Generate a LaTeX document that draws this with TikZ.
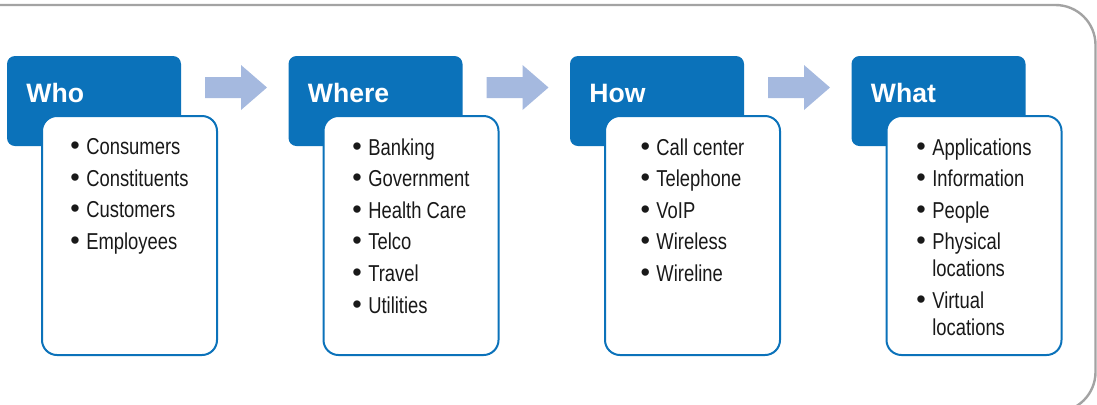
\documentclass[tikz,border=0pt]{standalone}
\usepackage{fontspec}
\setmainfont{Liberation Sans}
\newfontfamily\narrowsf[FakeStretch=0.8]{Liberation Sans}
\newfontfamily\plainsf{Liberation Sans}
\definecolor{hdrblue}{HTML}{0B72BA}
\definecolor{arrblue}{HTML}{A5B9DF}
\definecolor{framegray}{HTML}{A3A3A3}
% list bullet, a bit larger than the narrow text
\newcommand{\dotitem}{{\plainsf\fontsize{13.5}{13.5}\selectfont\textbullet}\hspace{3.2pt}}

\begin{document}
\begin{tikzpicture}[x=0.5pt, y=-0.5pt,
  head/.style={rectangle, fill=hdrblue, rounded corners=4pt,
    minimum width=87pt, minimum height=45pt, inner sep=0pt},
  card/.style={rectangle, draw=hdrblue, line width=1pt, fill=white,
    rounded corners=7.5pt, minimum width=87.5pt, minimum height=119.5pt, inner sep=0pt},
  title/.style={anchor=base west, text=white, inner sep=0pt,
    font=\fontsize{13.3}{16}\selectfont\bfseries},
  items/.style={anchor=north, align=left, inner sep=0pt, text=black!90,
    font=\narrowsf\fontsize{11.5}{13.5}\selectfont},
  flow/.style={fill=arrblue}
]
\useasboundingbox (0,0) rectangle (1097,404);
% outer frame
\draw[framegray, line width=1.2pt, rounded corners=20pt] (-40,5) rectangle (1095.5,412);

% headers
\node[head] (whoH) at (94,101) {};
\node[head] (whereH) at (375.5,101) {};
\node[head] (howH) at (657,101) {};
\node[head] (whatH) at (938.5,101) {};
\node[title] (whoT) at (26,102) {Who};
\node[title] (whereT) at (307.5,102) {Where};
\node[title] (howT) at (589,102) {How};
\node[title] (whatT) at (870.5,102) {What};

% cards
\node[card] (whoC) at (129.5,235.5) {};
\node[card] (whereC) at (411,235.5) {};
\node[card] (howC) at (692.5,235.5) {};
\node[card] (whatC) at (974,235.5) {};

\node[items] (whoL) at (129.5,138) {\dotitem Consumers\\[2.3pt]
  \dotitem Constituents\\[2.3pt] \dotitem Customers\\[2.3pt] \dotitem Employees};
\node[items] (whereL) at (411,138) {\dotitem Banking\\[2.3pt]
  \dotitem Government\\[2.3pt] \dotitem Health Care\\[2.3pt]
  \dotitem Telco\\[2.3pt] \dotitem Travel\\[2.3pt] \dotitem Utilities};
\node[items] (howL) at (692.5,138) {\dotitem Call center\\[2.3pt]
  \dotitem Telephone\\[2.3pt] \dotitem VoIP\\[2.3pt]
  \dotitem Wireless\\[2.3pt] \dotitem Wireline};
\node[items] (whatL) at (974,138) {\dotitem Applications\\[2.3pt]
  \dotitem Information\\[2.3pt] \dotitem People\\[2.3pt]
  \dotitem Physical\\\phantom{\dotitem}locations\\[2.3pt]
  \dotitem Virtual\\\phantom{\dotitem}locations};

% block arrows between the headers
\foreach \ax in {205,486.5,768}
  \fill[flow] (\ax,77) -- ++(36,0) -- ++(0,-12) -- ++(26,22.5)
    -- ++(-26,22.5) -- ++(0,-12) -- ++(-36,0) -- cycle;
\end{tikzpicture}
\end{document}
